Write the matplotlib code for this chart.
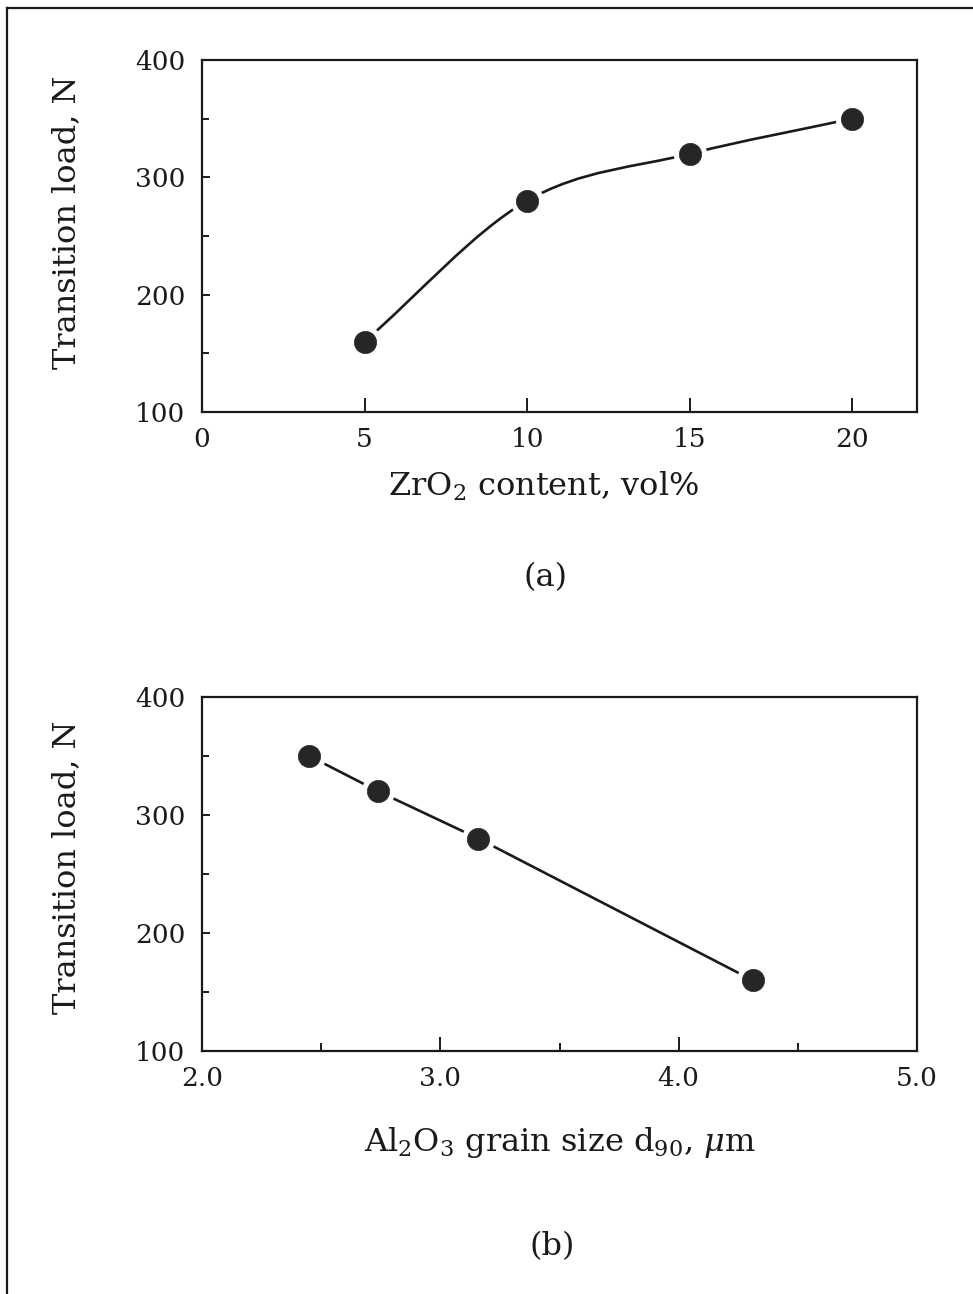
import matplotlib
matplotlib.use("Agg")
import matplotlib.pyplot as plt
from matplotlib.path import Path
from matplotlib.patches import PathPatch
from matplotlib.lines import Line2D
from matplotlib.ticker import MultipleLocator

# Panel (a): transition load vs ZrO2 content
zro2_vol = [5, 10, 15, 20]
load_a = [160, 280, 320, 350]

# Panel (b): transition load vs Al2O3 grain size d90
grain_d90 = [2.45, 2.74, 3.16, 4.31]
load_b = [350, 320, 280, 160]

FONT = "DejaVu Serif"
INK = "#1a1a1a"
DOT = "#262626"

plt.rcParams["font.family"] = FONT
plt.rcParams["mathtext.fontset"] = "dejavuserif"

fig = plt.figure(figsize=(9.73, 12.94), dpi=100)
fig.patch.set_facecolor("white")

# page frame (top and left rules)
fig.add_artist(Line2D([7 / 973, 1.0], [1 - 8 / 1294, 1 - 8 / 1294],
                      transform=fig.transFigure, color=INK, lw=1.6))
fig.add_artist(Line2D([7 / 973, 7 / 973], [0.0, 1 - 8 / 1294],
                      transform=fig.transFigure, color=INK, lw=1.6))

ax_a = fig.add_axes([202 / 973, 1 - 412 / 1294, 715 / 973, 352 / 1294])
ax_b = fig.add_axes([202 / 973, 1 - 1051 / 1294, 715 / 973, 354 / 1294])


def style_axes(ax):
    for s in ax.spines.values():
        s.set_linewidth(1.6)
        s.set_color(INK)
    ax.tick_params(axis="both", which="both", direction="in", top=False,
                   right=False, colors=INK, labelsize=19, width=1.4)
    ax.tick_params(axis="y", which="major", length=6, pad=12)
    ax.tick_params(axis="y", which="minor", length=5)
    ax.tick_params(axis="x", which="major", length=10, pad=11)
    ax.tick_params(axis="x", which="minor", length=6)
    ax.set_ylim(100, 400)
    ax.yaxis.set_major_locator(MultipleLocator(100))
    ax.yaxis.set_minor_locator(MultipleLocator(50))
    ax.set_ylabel("Transition load, N", fontsize=23, labelpad=38, color=INK)


def draw_markers(ax, x, y):
    ax.plot(x, y, ls="none", marker="o", ms=24, mfc="white", mec="none", zorder=3)
    ax.plot(x, y, ls="none", marker="o", ms=16, mfc=DOT, mec=DOT, mew=0.5, zorder=4)


def smooth_path(x, y):
    # Catmull-Rom through the points, written as cubic Bezier segments
    n = len(x)
    tx, ty = [], []
    for i in range(n):
        i0, i1 = max(i - 1, 0), min(i + 1, n - 1)
        tx.append((x[i1] - x[i0]) / (i1 - i0))
        ty.append((y[i1] - y[i0]) / (i1 - i0))
    verts = [(x[0], y[0])]
    codes = [Path.MOVETO]
    for i in range(n - 1):
        verts += [(x[i] + tx[i] / 3, y[i] + ty[i] / 3),
                  (x[i + 1] - tx[i + 1] / 3, y[i + 1] - ty[i + 1] / 3),
                  (x[i + 1], y[i + 1])]
        codes += [Path.CURVE4] * 3
    return Path(verts, codes)


# ---- panel (a)
style_axes(ax_a)
ax_a.yaxis.label.set_y(0.54)
ax_a.set_xlim(0, 22)
ax_a.set_xticks([0, 5, 10, 15, 20])
ax_a.set_xlabel("ZrO$_2$ content, vol%", fontsize=23, labelpad=13, color=INK)
ax_a.xaxis.label.set_x(0.477)
ax_a.add_patch(PathPatch(smooth_path(zro2_vol, load_a), fc="none", ec=INK,
                         lw=1.9, zorder=2))
draw_markers(ax_a, zro2_vol, load_a)
fig.text(545 / 973, 1 - 578 / 1294, "(a)", ha="center", va="center",
         fontsize=23, color=INK)

# ---- panel (b)
style_axes(ax_b)
ax_b.yaxis.label.set_y(0.52)
ax_b.set_xlim(2.0, 5.0)
ax_b.set_xticks([2.0, 3.0, 4.0, 5.0])
ax_b.set_xticklabels(["2.0", "3.0", "4.0", "5.0"])
ax_b.xaxis.set_minor_locator(MultipleLocator(0.5))
ax_b.set_xlabel(r"Al$_2$O$_3$ grain size d$_{90}$, $\mu$m", fontsize=23,
                labelpad=24, color=INK)
ax_b.plot(grain_d90, load_b, color=INK, lw=1.9, zorder=2)
draw_markers(ax_b, grain_d90, load_b)
fig.text(552 / 973, 1 - 1247 / 1294, "(b)", ha="center", va="center",
         fontsize=23, color=INK)

fig.savefig("out.png", dpi=100, facecolor="white")
